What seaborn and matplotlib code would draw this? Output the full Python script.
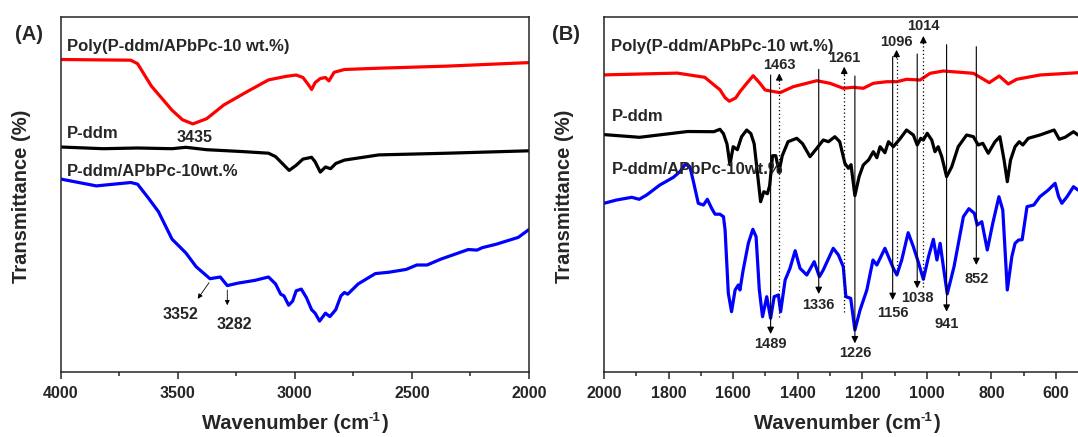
import numpy as np
import pandas as pd
import seaborn as sns
import matplotlib
matplotlib.use("Agg")
import matplotlib.pyplot as plt

# ---------------- data (arbitrary transmittance units) ----------------
# Panel A (4000-2000 cm-1)
A_red_wn = [4000, 3700, 3671, 3612, 3524, 3479, 3435, 3376, 3303, 3200, 3112, 3038, 2994, 2965,
            2943, 2928, 2913, 2891, 2869, 2854, 2832, 2788, 2641, 2347, 2000]
A_red_t = [312.2, 311.5, 308, 285.6, 261.5, 251.9, 247.8, 253, 266.7, 280.5, 291.8, 295.3, 296.7, 294.2,
           287.4, 282.2, 289.1, 293.2, 294.2, 290.8, 299.4, 302.2, 303.5, 305.6, 309.1]

A_blk_wn = [4000, 3818, 3671, 3524, 3465, 3376, 3229, 3112, 3082, 3053, 3024, 2994, 2965, 2928,
            2913, 2891, 2869, 2847, 2825, 2788, 2641, 2347, 2000]
A_blk_t = [224.7, 223, 223.7, 223, 224.4, 222, 220.2, 218.5, 215.1, 208.2, 201.3, 206.4, 212.6, 214.4,
           209.9, 199.6, 204.7, 203, 208.2, 211.6, 216.8, 218.5, 220.9]

A_blu_wn = [4000, 3847, 3700, 3671, 3626, 3582, 3524, 3465, 3421, 3362, 3318, 3288, 3244, 3171,
            3112, 3082, 3060, 3046, 3026, 3009, 2994, 2972, 2950, 2928, 2913, 2894, 2869, 2850,
            2825, 2803, 2788, 2774, 2729, 2656, 2597, 2524, 2479, 2435, 2376, 2259, 2222, 2200,
            2141, 2046, 2000]
A_blu_t = [192.7, 185.8, 189.2, 187.5, 174, 160.1, 132.6, 118.8, 105, 93, 94.7, 86.1, 88.5, 91.3,
           94.7, 87.8, 77.5, 75.8, 66.5, 70.6, 80.9, 82.6, 74, 62, 58.5, 50.6, 58.5, 55.1,
           62, 75.8, 79.2, 77.5, 87.8, 98.1, 99.5, 102.3, 106.7, 106.7, 112.6, 122.2, 121.6, 124,
           127.4, 134.3, 142.2]

# Panel B (2000-530 cm-1)
B_red_wn = [2000, 1773, 1688, 1656, 1641, 1625, 1612, 1592, 1579, 1560, 1538, 1517, 1501, 1455,
            1414, 1341, 1300, 1259, 1228, 1197, 1166, 1124, 1093, 1063, 1021, 990, 949, 856,
            807, 776, 748, 722, 650, 532]
B_red_t = [296.8, 298.6, 294.4, 285.9, 282, 274, 270.5, 273.8, 280, 287.6, 296, 288.4, 281.7, 279,
           285, 291, 288.4, 283.4, 284.4, 283.4, 288.4, 290, 290, 292.4, 291.7, 298.4, 300.7, 298.4,
           289, 295.7, 287.7, 292.4, 296.7, 299]

B_blk_wn = [2000, 1890, 1741, 1660, 1641, 1630, 1619, 1610, 1600, 1587, 1574, 1558, 1545, 1535,
            1527, 1515, 1505, 1494, 1487, 1478, 1468, 1458, 1448, 1430, 1403, 1385, 1362, 1341,
            1321, 1305, 1285, 1270, 1254, 1243, 1235, 1223, 1210, 1197, 1180, 1166, 1155, 1145,
            1130, 1119, 1104, 1083, 1063, 1042, 1030, 1019, 1011, 999, 985, 975, 965, 954,
            939, 923, 903, 877, 856, 841, 827, 810, 789, 774, 761, 751, 741, 727,
            714, 703, 686, 650, 606, 590, 572, 546, 532]
B_blk_t = [237.1, 234.4, 240.2, 240, 242.4, 238, 227.5, 207, 225, 222, 235, 241.7, 238, 228,
           205, 170, 180, 178, 186, 216, 216, 200, 216, 230, 233.4, 228, 215, 223.4,
           231.7, 230, 235, 230, 208.4, 203.4, 207, 176, 195, 206.7, 212, 220, 214, 225,
           219, 230, 225, 233, 241.7, 236.7, 226.7, 233.4, 231.7, 238.4, 231.7, 220, 225, 215,
           195, 205, 225, 236.7, 235, 226.7, 228.4, 218.4, 230, 235, 211.7, 190, 211.7, 225,
           230, 226.7, 233.4, 236.7, 241.7, 232.4, 234.4, 240, 236.7]

B_blu_wn = [2000, 1961, 1914, 1891, 1868, 1827, 1785, 1765, 1748, 1734, 1723, 1708, 1692, 1680,
            1666, 1656, 1641, 1630, 1625, 1615, 1605, 1594, 1584, 1579, 1569, 1553, 1539, 1529,
            1519, 1509, 1496, 1484, 1473, 1460, 1453, 1439, 1424, 1408, 1393, 1372, 1349, 1333,
            1321, 1290, 1274, 1259, 1251, 1236, 1223, 1207, 1186, 1167, 1155, 1145, 1130, 1119,
            1104, 1093, 1078, 1058, 1042, 1027, 1011, 995, 980, 969, 959, 949, 937, 916,
            887, 870, 853, 844, 830, 813, 796, 777, 765, 751, 737, 727, 716, 705,
            690, 669, 650, 624, 603, 592, 582, 566, 546, 532]
B_blu_t = [168.4, 171.7, 174.4, 172.4, 176.7, 186.7, 194.4, 200, 207.5, 205, 190, 168.4, 166.7, 172.4,
           163, 157.5, 157.5, 155, 141.7, 78.4, 60, 81.7, 86.7, 81.7, 101.7, 128.4, 142.4, 135,
           81.7, 55, 75, 53.4, 75, 76.7, 60, 91.7, 103.4, 121, 103.4, 96.7, 110, 95,
           101.7, 123.4, 116.7, 105, 75, 73.4, 41.7, 61.7, 81.7, 111.7, 106.7, 113.4, 123.4, 115,
           103.4, 96.7, 111.7, 139, 125, 110, 92.4, 115, 132.4, 111.7, 128.4, 105, 77.8, 105,
           155, 163, 158.4, 146.7, 150, 121.7, 148.4, 175, 161.7, 81.7, 115, 128.4, 131.7, 132,
           165, 166.7, 175, 181.7, 188.4, 175, 168.4, 175, 185, 181.7]

series_names = ["Poly(P-ddm/APbPc-10 wt.%)", "P-ddm", "P-ddm/APbPc-10wt.%"]
series_colors = ["#ff0000", "#000000", "#0000ff"]

# peak annotations, panel B: (label, x-position of marker line)
B_down_labels = ["1489", "1336", "1226", "1156", "1038", "941", "852"]
B_down_pos = [1484, 1335, 1223, 1106, 1030, 939, 847]
B_up_labels = ["1463", "1261", "1096", "1014"]
B_up_pos = [1457, 1256, 1094, 1011]

# ---------------- figure ----------------
sns.set_style("ticks")
plt.rcParams["font.family"] = ["Liberation Sans", "DejaVu Sans"]
plt.rcParams["font.weight"] = "bold"
plt.rcParams["axes.linewidth"] = 1.1

W, H = 1078, 437
fig = plt.figure(figsize=(W / 100, H / 100), dpi=100)
bot = (H - 371.7) / H
hgt = (371.7 - 16.5) / H
axA = fig.add_axes([60.5 / W, bot, (529 - 60.5) / W, hgt])
axB = fig.add_axes([604 / W, bot, (1084 - 604) / W, hgt])

LW = 2.3
def draw(ax, wns, ts):
    for wn, t, c in zip(wns, ts, series_colors):
        df = pd.DataFrame({"wn": wn, "t": t})
        sns.lineplot(data=df, x="wn", y="t", ax=ax, color=c, lw=LW, sort=False,
                     estimator=None, legend=False)

draw(axA, [A_red_wn, A_blk_wn, A_blu_wn], [A_red_t, A_blk_t, A_blu_t])
draw(axB, [B_red_wn, B_blk_wn, B_blu_wn], [B_red_t, B_blk_t, B_blu_t])

axA.set_xlim(4000, 2000)
axB.set_xlim(2000, 2000 - (1084 - 604) / 0.3229)
for ax in (axA, axB):
    ax.set_ylim(0, 355.2)
    ax.set_yticks([])
    ax.set_xlabel("")
    ax.set_ylabel("")
    for s in ax.spines.values():
        s.set_visible(True)
        s.set_linewidth(1.1)
    ax.tick_params(axis="x", which="major", direction="out", length=5, width=1.1,
                   labelsize=11.5, pad=5)
    ax.tick_params(axis="x", which="minor", direction="out", length=3, width=1.1)

axA.set_xticks([4000, 3500, 3000, 2500, 2000])
axA.set_xticks([3750, 3250, 2750, 2250], minor=True)
axB.set_xticks([2000, 1800, 1600, 1400, 1200, 1000, 800, 600])
axB.set_xticks([1900, 1700, 1500, 1300, 1100, 900, 700], minor=True)
for ax in (axA, axB):
    ax.set_xticklabels([str(int(v)) for v in ax.get_xticks()], fontweight="bold", fontsize=11.5)

# axis titles: "Wavenumber (cm" + raised small "-1" + ")"
renderer = fig.canvas.get_renderer()
for xc in (295, 847):
    base_y = (H - 429) / H
    t1 = fig.text(0, base_y, "Wavenumber (cm", ha="left", va="baseline",
                  fontsize=14.5, fontweight="bold")
    t2 = fig.text(0, base_y + 8 / H, "-1", ha="left", va="baseline",
                  fontsize=9.5, fontweight="bold")
    t3 = fig.text(0, base_y, ")", ha="left", va="baseline",
                  fontsize=14.5, fontweight="bold")
    w1 = t1.get_window_extent(renderer).width
    w2 = t2.get_window_extent(renderer).width
    w3 = t3.get_window_extent(renderer).width
    total = w1 + w2 + w3 + 1
    x0 = xc - total / 2
    t1.set_x(x0 / W)
    t2.set_x((x0 + w1) / W)
    t3.set_x((x0 + w1 + w2 + 1) / W)
for xc in (21.7, 564):
    fig.text(xc / W, 0.55, "Transmittance (%)", rotation=90, ha="center", va="center",
             fontsize=14.5, fontweight="bold")
fig.text(15.5 / W, 1 - 34.4 / H, "(A)", ha="left", va="center", fontsize=14.5, fontweight="bold")
fig.text(552 / W, 1 - 34.4 / H, "(B)", ha="left", va="center", fontsize=14.5, fontweight="bold")

# series labels
for name, y in zip(series_names, [325.2, 238.1, 200.6]):
    axA.text(3972, y, name, ha="left", va="center", fontsize=12, fontweight="bold")
for name, y in zip(series_names, [324.7, 255, 202.7]):
    axB.text(1977, y, name, ha="left", va="center", fontsize=12, fontweight="bold")

# panel A peak labels
axA.text(3428, 234.7, "3435", ha="center", va="center", fontsize=11.5, fontweight="bold")
axA.annotate("", xy=(3421, 70.6), xytext=(3359, 91.3),
             arrowprops=dict(arrowstyle="-|>", color="k", lw=0.6, mutation_scale=7))
axA.text(3487, 57.5, "3352", ha="center", va="center", fontsize=11.5, fontweight="bold")
axA.annotate("", xy=(3288, 63.7), xytext=(3288, 84.4),
             arrowprops=dict(arrowstyle="-|>", color="k", lw=0.6, mutation_scale=7))
axA.text(3259, 47.2, "3282", ha="center", va="center", fontsize=11.5, fontweight="bold")

# panel B marker lines
down_top = [296.7, 302.4, 295.7, 315, 317.7, 327, 325]
down_tip = [37.7, 77.7, 28.4, 71.7, 83.4, 60, 106.7]
down_lab = [27.7, 66.7, 18.4, 59, 73.4, 47.7, 92.7]
for lab, x, t0, t1, ly in zip(B_down_labels, B_down_pos, down_top, down_tip, down_lab):
    axB.annotate("", xy=(x, t1), xytext=(x, t0),
                 arrowprops=dict(arrowstyle="-|>", color="k", lw=0.8, mutation_scale=10,
                                 shrinkA=0, shrinkB=0))
    axB.text(x, ly, lab, ha="center", va="center", fontsize=10.5, fontweight="bold")

up_bot = [55, 60, 98.7, 85]
up_tip = [298.4, 305, 321.9, 335.7]
up_lab = [306.7, 313.4, 329.8, 345.3]
for lab, x, b0, t1, ly in zip(B_up_labels, B_up_pos, up_bot, up_tip, up_lab):
    axB.plot([x, x], [b0, t1 - 6], color="k", lw=0.9, ls=(0, (1, 2)))
    axB.annotate("", xy=(x, t1), xytext=(x, t1 - 8),
                 arrowprops=dict(arrowstyle="-|>", color="k", lw=0.8, mutation_scale=10,
                                 shrinkA=0, shrinkB=0))
    axB.text(x, ly, lab, ha="center", va="center", fontsize=10.5, fontweight="bold")

fig.savefig("out.png", dpi=100)
